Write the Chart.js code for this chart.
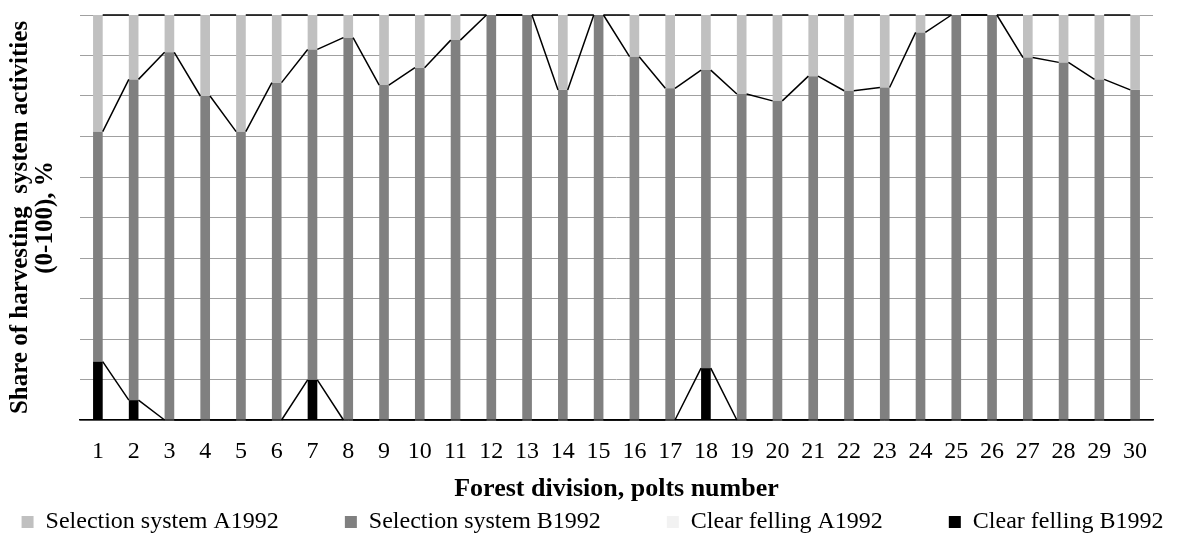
<!DOCTYPE html>
<html>
<head>
<meta charset="utf-8">
<script src="https://cdn.jsdelivr.net/npm/chart.js@4/dist/chart.umd.min.js"></script>
<style>
  html, body { margin: 0; padding: 0; background: #fff; }
  #wrap { width: 1179px; height: 544px; }
</style>
</head>
<body>
<div id="wrap"><canvas id="harvestChart" width="1179" height="544"></canvas></div>
<script>
const plots = ['1','2','3','4','5','6','7','8','9','10','11','12','13','14','15',
  '16','17','18','19','20','21','22','23','24','25','26','27','28','29','30'];

const selectionA = [28.8, 15.9, 9.2, 20.0, 28.8, 16.7, 8.5, 5.6, 17.3, 13.0, 6.2, 0, 0, 18.5, 0,
  10.3, 18.1, 13.6, 19.5, 21.2, 15.1, 18.7, 17.9, 4.3, 0, 0, 10.5, 11.7, 15.9, 18.5];
const selectionB = [56.8, 79.2, 90.8, 80.0, 71.2, 83.3, 81.6, 94.4, 82.7, 87.0, 93.8, 100, 100, 81.5, 100,
  89.7, 81.9, 73.6, 80.5, 78.8, 84.9, 81.3, 82.1, 95.7, 100, 100, 89.5, 88.3, 84.1, 81.5];
const clearA = [0, 0, 0, 0, 0, 0, 0, 0, 0, 0, 0, 0, 0, 0, 0,
  0, 0, 0, 0, 0, 0, 0, 0, 0, 0, 0, 0, 0, 0, 0];
const clearB = [14.4, 4.9, 0, 0, 0, 0, 9.9, 0, 0, 0, 0, 0, 0, 0, 0,
  0, 0, 12.8, 0, 0, 0, 0, 0, 0, 0, 0, 0, 0, 0, 0];

const serif = 'Liberation Serif';
// legend shows A, B, clear A, clear B; stacking goes clear B at the bottom
const legendOrder = ['Selection system A1992', 'Selection system B1992', 'Clear felling A1992', 'Clear felling B1992'];

// excel style "series lines" joining the top of each segment to the next bar
const seriesLines = {
  id: 'seriesLines',
  afterDatasetsDraw(chart) {
    const ctx = chart.ctx;
    ctx.save();
    ctx.strokeStyle = '#000';
    ctx.lineWidth = 1.5;
    chart.data.datasets.forEach((ds, i) => {
      if (ds.label === 'Clear felling A1992') return;
      const bars = chart.getDatasetMeta(i).data;
      ctx.beginPath();
      for (let j = 0; j < bars.length - 1; j++) {
        const a = bars[j], b = bars[j + 1];
        ctx.moveTo(a.x + a.width / 2, a.y);
        ctx.lineTo(b.x - b.width / 2, b.y);
      }
      ctx.stroke();
    });
    ctx.restore();
  }
};

const ctx = document.getElementById('harvestChart').getContext('2d');
new Chart(ctx, {
  type: 'bar',
  data: {
    labels: plots,
    datasets: [
      { label: 'Clear felling B1992', data: clearB, backgroundColor: '#000000' },
      { label: 'Selection system B1992', data: selectionB, backgroundColor: '#808080' },
      { label: 'Selection system A1992', data: selectionA, backgroundColor: '#c0c0c0' },
      { label: 'Clear felling A1992', data: clearA, backgroundColor: '#f2f2f2' }
    ]
  },
  options: {
    responsive: false,
    animation: false,
    // wide legend needs more room than the canvas; axes below pull the plot back in
    layout: { padding: { top: 15, right: -63, left: -57, bottom: 0 } },
    datasets: { bar: { barPercentage: 0.27, categoryPercentage: 1 } },
    scales: {
      x: {
        stacked: true,
        grid: { display: false, drawTicks: false },
        border: { color: '#000', width: 1.5 },
        ticks: {
          color: '#000', font: { family: serif, size: 24 },
          // mirror stops the labels being clipped to the (squeezed) axis box
          mirror: true, padding: -46.4, maxRotation: 0, autoSkip: false
        },
        title: {
          display: true,
          text: 'Forest division, polts number',
          color: '#000',
          font: { family: serif, size: 26, weight: 'bold' },
          padding: { top: 0, bottom: -60.6 }
        },
        afterFit: (scale) => { scale.height = 24; }
      },
      y: {
        stacked: true,
        min: 0,
        max: 100,
        ticks: { display: false, stepSize: 10 },
        grid: { color: '#a0a0a0', lineWidth: 1, drawTicks: false },
        border: { display: false },
        title: {
          display: true,
          text: ['Share of harvesting  system activities', '(0-100), %'],
          color: '#000',
          font: { family: serif, size: 25, weight: 'bold', lineHeight: 1 },
          padding: { top: 65.5, bottom: 21.5 }
        }
      },
      yRight: {
        position: 'right',
        grid: { display: false, drawTicks: false },
        ticks: { display: false },
        border: { display: false },
        afterFit: (scale) => { scale.width = 89; }
      }
    },
    plugins: {
      legend: {
        position: 'bottom',
        labels: {
          color: '#000',
          font: { family: serif, size: 24 },
          boxWidth: 12,
          boxHeight: 12,
          padding: 66,
          sort: (a, b) => legendOrder.indexOf(a.text) - legendOrder.indexOf(b.text)
        }
      },
      tooltip: { enabled: false }
    }
  },
  plugins: [seriesLines]
});
</script>
</body>
</html>
